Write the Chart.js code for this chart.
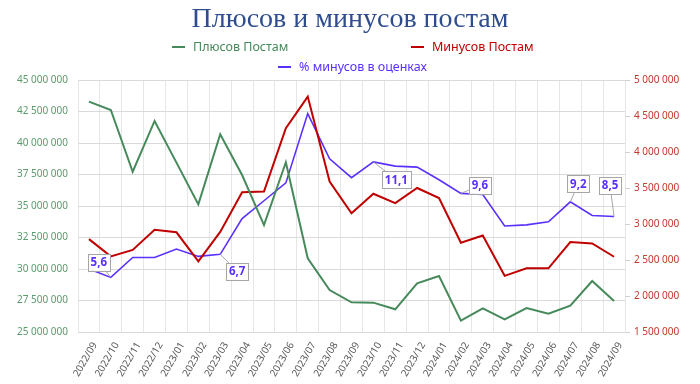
<!DOCTYPE html>
<html lang="ru">
<head>
<meta charset="utf-8">
<script src="https://cdn.jsdelivr.net/npm/chart.js@4"></script>
<style>
  html, body { margin: 0; padding: 0; background: #fff; }
  #wrap { width: 700px; height: 384px; }
</style>
</head>
<body>
<div id="wrap"><canvas id="chart" width="700" height="384"></canvas></div>
<script>
// Данные
const months = ['2022/09', '2022/10', '2022/11', '2022/12', '2023/01', '2023/02', '2023/03', '2023/04',
    '2023/05', '2023/06', '2023/07', '2023/08', '2023/09', '2023/10', '2023/11', '2023/12',
    '2024/01', '2024/02', '2024/03', '2024/04', '2024/05', '2024/06', '2024/07', '2024/08', '2024/09'];

const plusPosts = [43280000, 42620000, 37720000, 41750000, 38440000, 35130000, 40690000, 37460000,
    33490000, 38470000, 30850000, 28330000, 27360000, 27330000, 26800000, 28860000,
    29440000, 25900000, 26880000, 26000000, 26900000, 26450000, 27090000, 29050000, 27460000];

const minusPosts = [2790000, 2550000, 2640000, 2920000, 2885000, 2480000, 2890000, 3440000,
    3450000, 4330000, 4770000, 3590000, 3150000, 3420000, 3290000, 3500000,
    3360000, 2740000, 2840000, 2280000, 2385000, 2385000, 2750000, 2730000, 2545000];

const minusPercent = [6.0, 5.6, 6.55, 6.55, 6.95, 6.6, 6.7, 8.4,
    9.25, 10.1, 13.4, 11.25, 10.35, 11.1, 10.9, 10.85,
    10.25, 9.6, 9.55, 8.05, 8.1, 8.25, 9.2, 8.55, 8.5];

const leftTicks = [25000000, 27500000, 30000000, 32500000, 35000000, 37500000, 40000000, 42500000, 45000000];
const rightTicks = [1500000, 2000000, 2500000, 3000000, 3500000, 4000000, 4500000, 5000000];

const GREEN = '#468a5b';
const RED = '#c00000';
const BLUE = '#5a30ff';
const FONT = 'Noto Sans';

const fmt = v => String(v).replace(/\B(?=(\d{3})+(?!\d))/g, ' ');

// Легенда в две строки, как в оригинале
const slotLegend = {
    id: 'slotLegend',
    afterDraw(chart, args, opts) {
        const ctx = chart.ctx;
        ctx.save();
        ctx.font = opts.size + 'px "' + FONT + '"';
        ctx.textBaseline = 'middle';
        chart.data.datasets.forEach((ds, i) => {
            const s = opts.slots[i];
            ctx.strokeStyle = ds.borderColor;
            ctx.lineWidth = 2;
            ctx.beginPath();
            ctx.moveTo(s.x, s.y);
            ctx.lineTo(s.x + 13, s.y);
            ctx.stroke();
            ctx.fillStyle = ds.borderColor;
            ctx.fillText(ds.label, s.x + 21, s.y);
        });
        ctx.restore();
    }
};

// Подписи значений с выносками
const callouts = {
    id: 'callouts',
    afterDatasetsDraw(chart, args, opts) {
        const ctx = chart.ctx;
        const meta = chart.getDatasetMeta(2);
        const values = chart.data.datasets[2].data;
        ctx.save();
        ctx.font = 'bold 11.5px "' + FONT + '"';
        ctx.textAlign = 'center';
        ctx.textBaseline = 'middle';
        opts.points.forEach(p => {
            const pt = meta.data[p.i];
            const text = values[p.i].toFixed(1).replace('.', ',');
            const w = ctx.measureText(text).width + 6;
            const h = 17;
            const cx = pt.x + p.dx, cy = pt.y + p.dy;
            ctx.strokeStyle = '#a6a6a6';
            ctx.lineWidth = 1;
            ctx.beginPath();
            ctx.moveTo(pt.x, pt.y);
            ctx.lineTo(cx, cy);
            ctx.stroke();
            ctx.fillStyle = '#fff';
            ctx.fillRect(cx - w / 2, cy - h / 2, w, h);
            ctx.strokeRect(Math.round(cx - w / 2) + 0.5, Math.round(cy - h / 2) + 0.5, Math.round(w), h);
            ctx.fillStyle = BLUE;
            ctx.fillText(text, cx, cy + 0.5);
        });
        ctx.restore();
    }
};

new Chart(document.getElementById('chart'), {
    type: 'line',
    data: {
        labels: months,
        datasets: [
            {
                label: 'Плюсов Постам',
                data: plusPosts,
                yAxisID: 'yPlus',
                borderColor: GREEN,
                borderWidth: 2,
                pointRadius: 0,
                tension: 0
            },
            {
                label: 'Минусов Постам',
                data: minusPosts,
                yAxisID: 'yMinus',
                borderColor: RED,
                borderWidth: 2,
                pointRadius: 0,
                tension: 0
            },
            {
                label: '% минусов в оценках',
                data: minusPercent,
                yAxisID: 'yPct',
                borderColor: BLUE,
                borderWidth: 1.6,
                pointRadius: 0,
                tension: 0
            }
        ]
    },
    options: {
        responsive: false,
        animation: false,
        devicePixelRatio: 1,
        layout: { padding: 0 },
        plugins: {
            legend: { display: false },
            tooltip: { enabled: false },
            title: {
                display: true,
                text: 'Плюсов и минусов постам',
                color: '#2f4d8e',
                font: { family: 'Liberation Serif', size: 28, weight: 'normal' },
                padding: { top: 3, bottom: 43.4 }
            },
            slotLegend: {
                size: 12.5,
                slots: [{ x: 172, y: 47 }, { x: 411, y: 47 }, { x: 278, y: 67 }]
            },
            callouts: {
                points: [
                    { i: 1, dx: -12, dy: -15 },
                    { i: 6, dx: 17, dy: 17 },
                    { i: 13, dx: 23, dy: 18 },
                    { i: 17, dx: 19, dy: -8 },
                    { i: 22, dx: 8, dy: -18 },
                    { i: 24, dx: -4, dy: -31 }
                ]
            }
        },
        scales: {
            x: {
                offset: true,
                grid: { offset: true, color: '#e6e6e6', drawTicks: false },
                border: { color: '#d9d9d9' },
                ticks: {
                    color: '#595959',
                    font: { family: FONT, size: 10 },
                    minRotation: 60,
                    maxRotation: 60,
                    autoSkip: false,
                    labelOffset: 6,
                    padding: 8
                },
                afterFit: s => { s.height = 52; }
            },
            yPlus: {
                position: 'left',
                min: 25000000,
                max: 45000000,
                afterBuildTicks: s => { s.ticks = leftTicks.map(v => ({ value: v })); },
                ticks: {
                    color: '#5b9a6c',
                    font: { family: FONT, size: 10 },
                    padding: 10,
                    callback: v => fmt(v)
                },
                grid: { color: '#dadada', drawTicks: false },
                border: { display: false },
                afterFit: s => { s.width = 78; }
            },
            yMinus: {
                position: 'right',
                min: 1500000,
                max: 5000000,
                afterBuildTicks: s => { s.ticks = rightTicks.map(v => ({ value: v })); },
                ticks: {
                    color: '#c0392b',
                    font: { family: FONT, size: 10 },
                    padding: 4,
                    callback: v => fmt(v)
                },
                grid: { drawOnChartArea: false, tickLength: 5, color: '#cfcfcf' },
                border: { display: false },
                afterFit: s => { s.width = 75; }
            },
            yPct: {
                display: false,
                min: 3,
                max: 15
            }
        }
    },
    plugins: [slotLegend, callouts]
});
</script>
</body>
</html>
